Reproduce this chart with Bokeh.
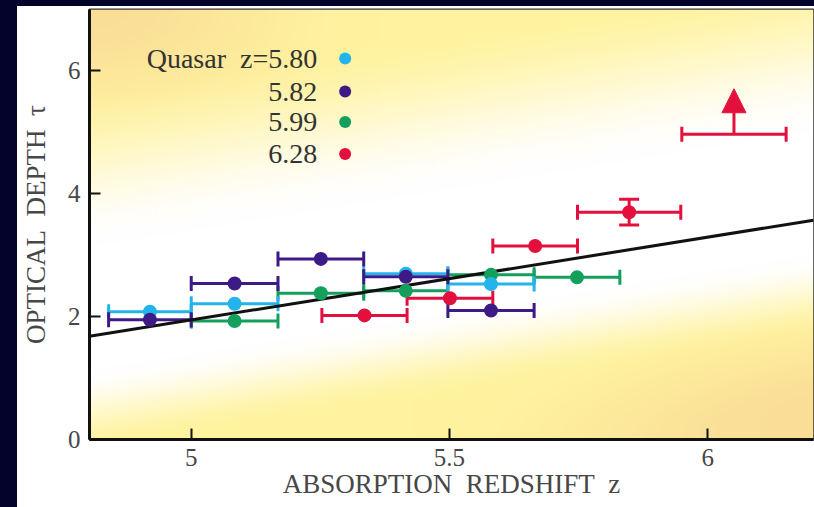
import numpy as np
from bokeh.plotting import figure
from bokeh.models import Arrow, NormalHead, Spacer, NumeralTickFormatter
from bokeh.layouts import column, row
from bokeh.embed import file_html
from bokeh.resources import INLINE
from bokeh.core.properties import value

# ---------------- data ----------------
x_start, x_end = 4.803, 6.205
y_start, y_end = 0.0, 7.0
x_ticks = [5, 5.5, 6]
y_ticks = [0, 2, 4, 6]

NB = "\u00a0"
legend_labels = ["Quasar" + NB * 2 + "z=5.80", "5.82", "5.99", "6.28"]
colors = ["#22b4ea", "#3d1a86", "#14a05c", "#e3103d"]

# quasar z=5.80 (cyan)
c_lo = [4.840, 5.000, 5.334, 5.497]
c_hi = [5.000, 5.168, 5.497, 5.664]
c_tau = [2.08, 2.21, 2.70, 2.53]
# quasar z=5.82 (purple)
p_lo = [4.840, 5.000, 5.168, 5.334, 5.497]
p_hi = [5.000, 5.168, 5.334, 5.497, 5.664]
p_tau = [1.95, 2.54, 2.94, 2.65, 2.10]
# quasar z=5.99 (green)
g_lo = [5.000, 5.168, 5.334, 5.497, 5.664]
g_hi = [5.168, 5.334, 5.497, 5.664, 5.830]
g_tau = [1.93, 2.38, 2.42, 2.68, 2.64]
# quasar z=6.28 (red)
r_lo = [5.253, 5.418, 5.584, 5.748]
r_hi = [5.418, 5.584, 5.748, 5.948]
r_tau = [2.02, 2.30, 3.15, 3.70]
r_err = [0.0, 0.0, 0.0, 0.21]
# red lower limit
rl_lo = [5.950]
rl_hi = [6.152]
rl_tau = [4.97]

# fitted line
fit_z = [4.803, 6.205]
fit_tau = [1.68, 3.57]

x_label = "ABSORPTION" + NB * 2 + "REDSHIFT" + NB * 2 + "z"
y_label = "OPTICAL" + NB * 2 + "DEPTH" + NB * 2 + "\u03c4"

# ---------------- figure ----------------
NAVY = "#04032b"
FONT = "Liberation Serif"
TXT = "#474747"

W, H = 797, 501
p = figure(width=W, height=H, x_range=(x_start, x_end), y_range=(y_start, y_end),
           output_backend="svg", toolbar_location=None,
           min_border_left=71, min_border_right=1, min_border_top=3, min_border_bottom=68,
           background_fill_color="white", border_fill_color="white")
p.grid.visible = False
p.outline_line_color = "#333333"
p.outline_line_width = 2

p.xaxis.ticker = x_ticks
p.yaxis.ticker = y_ticks
p.xaxis.formatter = NumeralTickFormatter(format="0.[0]")
for ax in (p.xaxis, p.yaxis):
    ax.axis_line_width = 3
    ax.axis_line_color = "#111111"
    ax.major_tick_in = 11
    ax.major_tick_out = 0
    ax.major_tick_line_width = 2
    ax.major_tick_line_color = "#111111"
    ax.minor_tick_line_color = None
    ax.major_label_text_font = FONT
    ax.major_label_text_font_size = "25px"
    ax.major_label_text_color = TXT
    ax.axis_label_text_font = FONT
    ax.axis_label_text_font_size = "27px"
    ax.axis_label_text_font_style = "normal"
    ax.axis_label_text_color = TXT
p.xaxis.major_label_standoff = 9
p.yaxis.major_label_standoff = 9
p.xaxis.axis_label = x_label
p.yaxis.axis_label = y_label
p.xaxis.axis_label_standoff = 0
p.yaxis.axis_label_standoff = 14

# ---------------- background gradient ----------------
nx, ny = 363, 215
xs = np.linspace(x_start, x_end, nx)
ys = np.linspace(y_start, y_end, ny)
X, Y = np.meshgrid(xs, ys)
px_per_x = 725.0 / (x_end - x_start)
px_per_y = 430.0 / (y_end - y_start)
slope = (fit_tau[1] - fit_tau[0]) / (fit_z[1] - fit_z[0])
line_t = fit_tau[0] + slope * (X - fit_z[0])
d = (Y - line_t) * px_per_y  # positive above the line
xf = (X - x_start) / (x_end - x_start)
yf = (Y - y_start) / (y_end - y_start)


def smooth(a, b, v):
    t = np.clip((v - a) / (b - a), 0, 1)
    return t * t * (3 - 2 * t)


white = np.array([255, 255, 255], float)
yellow = np.array([255, 243, 160], float)
orange = np.array([250, 222, 150], float)

t_up = smooth(90, 250, d)
t_dn = smooth(35, 115, -d)
t = np.where(d > 0, t_up, t_dn)
o_up = smooth(0.68, 1.0, yf) * (1 - smooth(0.0, 0.4, xf))
o_dn = smooth(0.45, 1.0, xf) * smooth(80, 190, -d)
o = np.where(d > 0, o_up, o_dn)
col = (white[None, None, :] * (1 - t[..., None]) +
       (yellow[None, None, :] * (1 - o[..., None]) + orange[None, None, :] * o[..., None]) * t[..., None])
col = np.clip(col, 0, 255).astype(np.uint32)
img = (255 << 24) | (col[..., 2] << 16) | (col[..., 1] << 8) | col[..., 0]
img = img.astype(np.uint32)
p.image_rgba(image=[img], x=x_start, y=y_start, dw=x_end - x_start, dh=y_end - y_start)

# ---------------- data marks ----------------
LW = 3
CAP = 15
DOT = 14


def draw_series(lo, hi, tau, color):
    lo = np.array(lo); hi = np.array(hi); tau = np.array(tau)
    p.segment(x0=lo, y0=tau, x1=hi, y1=tau, line_color=color, line_width=LW)
    p.scatter(x=np.concatenate([lo, hi]), y=np.concatenate([tau, tau]), marker="dash",
              angle=np.pi / 2, size=CAP, line_color=color, line_width=LW)


series = [(g_lo, g_hi, g_tau, colors[2]),
          (c_lo, c_hi, c_tau, colors[0]),
          (p_lo, p_hi, p_tau, colors[1]),
          (r_lo, r_hi, r_tau, colors[3])]

for lo, hi, tau, color in series:
    draw_series(lo, hi, tau, color)

# red vertical error bars
r_lo_a, r_hi_a = np.array(r_lo), np.array(r_hi)
r_mid = (r_lo_a + r_hi_a) / 2
r_t = np.array(r_tau); r_e = np.array(r_err)
has = r_e > 0
p.segment(x0=r_mid[has], y0=(r_t - r_e)[has], x1=r_mid[has], y1=(r_t + r_e)[has],
          line_color=colors[3], line_width=LW)
p.scatter(x=np.concatenate([r_mid[has], r_mid[has]]),
          y=np.concatenate([(r_t - r_e)[has], (r_t + r_e)[has]]),
          marker="dash", size=20, line_color=colors[3], line_width=LW)

# red lower limit
draw_series(rl_lo, rl_hi, rl_tau, colors[3])
for lo, hi, tau in zip(rl_lo, rl_hi, rl_tau):
    mid = (lo + hi) / 2
    p.add_layout(Arrow(end=NormalHead(size=24, fill_color=colors[3], line_color=colors[3], line_width=1),
                       x_start=mid, y_start=tau, x_end=mid, y_end=tau + 0.74,
                       line_color=colors[3], line_width=LW))

# fitted line
p.line(fit_z, fit_tau, line_color="#111111", line_width=3)

# dots
for lo, hi, tau, color in series:
    mids = (np.array(lo) + np.array(hi)) / 2
    p.scatter(x=mids, y=tau, size=DOT, fill_color=color, line_color=None)

# ---------------- legend ----------------
def sx(px):
    return x_start + (px - 88) / px_per_x


def sy(py):
    return y_start + (439 - py) / px_per_y


leg_rows = [58.0, 91.0, 121.5, 153.5]
p.text(x=[sx(316)] * 4, y=[sy(v) for v in leg_rows], text=legend_labels,
       text_font=value(FONT), text_font_size="28px", text_color="#333333",
       text_align="right", text_baseline="middle")
p.scatter(x=[sx(344)] * 4, y=[sy(v) for v in leg_rows], size=12,
          fill_color=colors, line_color=None)

top = Spacer(width=814, height=6, styles={"background-color": NAVY})
left = Spacer(width=17, height=H, styles={"background-color": NAVY})
layout = column(top, row(left, p, spacing=0), spacing=0)

open("out.html", "w").write(file_html(layout, INLINE))
